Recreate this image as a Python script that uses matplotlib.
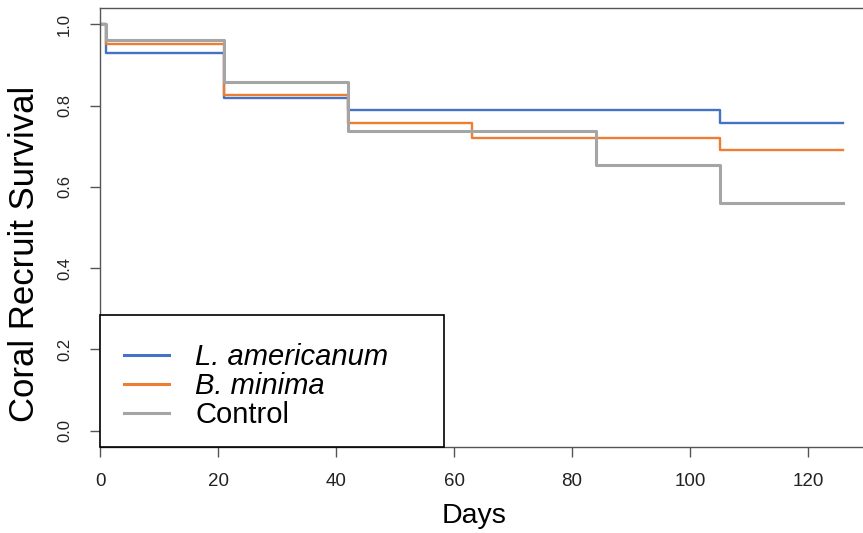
# Kaplan-Meier style survival curves for coral recruits by treatment

import matplotlib
matplotlib.use('Agg')
import matplotlib.pyplot as plt
from matplotlib.patches import Rectangle

days = [0, 1, 21, 42, 63, 84, 105, 126]
l_americanum = [1.0, 0.930, 0.818, 0.788, 0.788, 0.788, 0.758, 0.758]
b_minima = [1.0, 0.951, 0.826, 0.758, 0.720, 0.720, 0.690, 0.690]
control = [1.0, 0.962, 0.859, 0.738, 0.738, 0.653, 0.560, 0.560]

series_names = ['L. americanum', 'B. minima', 'Control']
x_ticks = [0, 20, 40, 60, 80, 100, 120]
y_ticks = [0.0, 0.2, 0.4, 0.6, 0.8, 1.0]
y_tick_labels = ['0.0', '0.2', '0.4', '0.6', '0.8', '1.0']

plt.rcParams['font.family'] = ['Liberation Sans', 'DejaVu Sans']

fig = plt.figure(figsize=(8.63, 5.33), dpi=100)
W, H = 863, 533
ax = fig.add_axes([100 / W, 1 - 447 / H, 763 / W, 439 / H])

ax.step(days, l_americanum, where='post', color='#4472C4', lw=1.7, label=series_names[0])
ax.step(days, b_minima, where='post', color='#ED7D31', lw=1.7, label=series_names[1])
ax.step(days, control, where='post', color='#A5A5A5', lw=2.2, label=series_names[2])

ax.set_xlim(0, 763 / 5.9)
ax.set_ylim(-0.04, 1.04)

ax.set_xticks(x_ticks)
ax.set_xticklabels([str(t) for t in x_ticks], fontsize=13.5, color='#222222')
ax.set_yticks(y_ticks)
ax.set_yticklabels(y_tick_labels, fontsize=12, color='#222222',
                   rotation=90, va='center')
ax.tick_params(axis='x', length=7, width=1, color='#555555', pad=12)
ax.tick_params(axis='y', length=7, width=1, color='#555555', pad=13)

for side in ['left', 'bottom', 'top']:
    ax.spines[side].set_color('#555555')
    ax.spines[side].set_linewidth(1.0)
ax.spines['right'].set_visible(False)

ax.set_xlabel('Days', fontsize=20.5)
ax.xaxis.set_label_coords(0.49, -0.157)
ax.xaxis.label.set_va('center')
ax.set_ylabel('Coral Recruit Survival', fontsize=25)
ax.yaxis.set_label_coords(-0.099, 0.44)
ax.yaxis.label.set_va('center')

# legend box drawn by hand so it sits flush in the bottom-left corner
box = Rectangle((0, 0), 344 / 763, 132 / 439, transform=ax.transAxes,
                facecolor='white', edgecolor='black', lw=1.2, zorder=5,
                clip_on=False)
ax.add_patch(box)

leg = ax.legend(loc='upper left', bbox_to_anchor=(24 / 763, 1 - 335 / 439),
                frameon=False, fontsize=21, handlelength=1.55,
                handletextpad=0.9, labelspacing=0.04, borderpad=0,
                borderaxespad=0)
leg.set_zorder(6)
for txt in leg.get_texts()[:2]:
    txt.set_style('italic')
for line in leg.get_lines():
    line.set_linewidth(2.2)

fig.savefig('out.png', dpi=100, facecolor='white')
